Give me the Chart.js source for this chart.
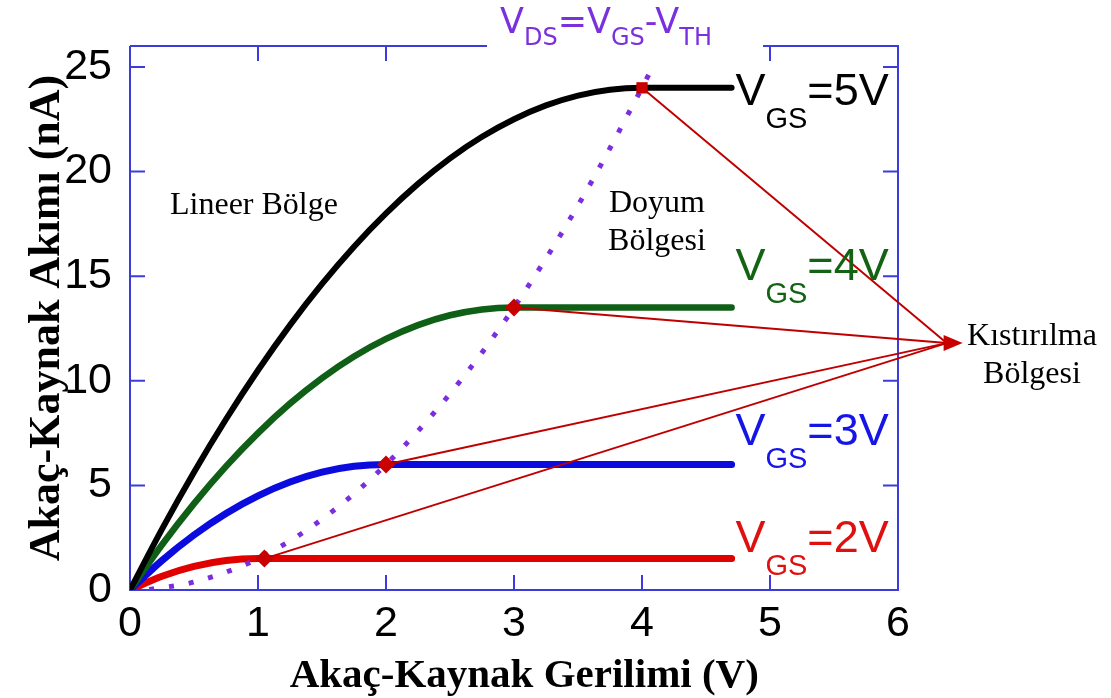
<!DOCTYPE html>
<html><head><meta charset="utf-8">
<script src="https://cdn.jsdelivr.net/npm/chart.js@4.4.1/dist/chart.umd.min.js"></script>
<style>html,body{margin:0;padding:0;background:#fff;}#wrap{width:1111px;height:698px;position:relative}</style>
</head><body><div id="wrap"><canvas id="c" width="1111" height="698"></canvas></div>
<script>
// ---- data ----
const VDS_VGS5 = [0, 0.25, 0.5, 0.75, 1, 1.25, 1.5, 1.75, 2, 2.25, 2.5, 2.75, 3, 3.25, 3.5, 3.75, 4, 4.7];
const ID_VGS5  = [0, 2.91, 5.63, 8.16, 10.5, 12.66, 14.63, 16.41, 18.0, 19.41, 20.63, 21.66, 22.5, 23.16, 23.63, 23.91, 24.0, 24.0];
const VDS_VGS4 = [0, 0.25, 0.5, 0.75, 1, 1.25, 1.5, 1.75, 2, 2.25, 2.5, 2.75, 3, 4.7];
const ID_VGS4  = [0, 2.16, 4.13, 5.91, 7.5, 8.91, 10.13, 11.16, 12.0, 12.66, 13.13, 13.41, 13.5, 13.5];
const VDS_VGS3 = [0, 0.25, 0.5, 0.75, 1, 1.25, 1.5, 1.75, 2, 4.7];
const ID_VGS3  = [0, 1.41, 2.63, 3.66, 4.5, 5.16, 5.63, 5.91, 6.0, 6.0];
const VDS_VGS2 = [0, 0.25, 0.5, 0.75, 1, 4.7];
const ID_VGS2  = [0, 0.66, 1.13, 1.41, 1.5, 1.5];
const VDS_SAT  = [0.15, 0.5, 1, 1.5, 2, 2.5, 3, 3.5, 4, 4.1];
const ID_SAT   = [0.03, 0.38, 1.5, 3.38, 6.0, 9.38, 13.5, 18.38, 24.0, 25.2];
const PINCH_X  = [1.05, 2, 3, 4];
const PINCH_Y  = [1.5, 6, 13.5, 24];
const ARROW_TIP = [6.38, 11.8];
const X_TICKS = [0, 1, 2, 3, 4, 5, 6];
const Y_TICKS = [0, 5, 10, 15, 20, 25];
const CURVE_LABELS = ['=5V', '=4V', '=3V', '=2V'];

const pts = (xs, ys) => xs.map((x, i) => ({x, y: ys[i]}));
const FRAME = '#3c3cdc';
const SANS = '"Liberation Sans", Arial, sans-serif';
const SERIF = '"Liberation Serif", "Times New Roman", serif';

function curve(xs, ys, color, w) {
  return {data: pts(xs, ys), showLine: true, borderColor: color, borderWidth: w,
    pointRadius: 0, cubicInterpolationMode: 'monotone', fill: false, borderCapStyle: 'round'};
}
// Chart.js draws the first dataset on top
const datasets = [];
datasets.push({data: pts(PINCH_X, PINCH_Y), showLine: false, pointStyle: ['rectRot', 'rectRot', 'rectRot', 'rect'],
  pointRadius: [9, 9, 9, 8], backgroundColor: '#c80000', borderColor: '#c80000', borderWidth: 0});
PINCH_X.forEach((x, i) => {
  datasets.push({data: [{x, y: PINCH_Y[i]}, {x: ARROW_TIP[0], y: ARROW_TIP[1]}], showLine: true,
    borderColor: '#c00000', borderWidth: 2, pointRadius: 0, clip: false});
});
datasets.push({data: pts(VDS_SAT, ID_SAT), showLine: true, borderColor: '#7a2ee0', borderWidth: 5,
  borderDash: [5, 15], borderCapStyle: 'butt', pointRadius: 0, cubicInterpolationMode: 'monotone'});
datasets.push(curve(VDS_VGS5, ID_VGS5, '#000000', 6));
datasets.push(curve(VDS_VGS4, ID_VGS4, '#0f5f17', 6.5));
datasets.push(curve(VDS_VGS3, ID_VGS3, '#0b0be0', 7));
datasets.push(curve(VDS_VGS2, ID_VGS2, '#e00000', 7));

function drawParts(ctx, parts, x, y, color) {
  ctx.fillStyle = color; ctx.textAlign = 'left'; ctx.textBaseline = 'alphabetic';
  for (const p of parts) {
    ctx.font = p.f;
    ctx.fillText(p.t, x, y + (p.dy || 0));
    x += ctx.measureText(p.t).width;
  }
  return x;
}

const deco = {
  id: 'deco',
  beforeDatasetsDraw(chart) {
    const {ctx, chartArea: a, scales: {x, y}} = chart;
    ctx.save();
    ctx.strokeStyle = FRAME; ctx.lineWidth = 2;
    const gapL = 487, gapR = 763;
    ctx.beginPath();
    ctx.moveTo(a.left, a.top); ctx.lineTo(gapL, a.top);
    ctx.moveTo(gapR, a.top); ctx.lineTo(a.right, a.top);
    ctx.lineTo(a.right, a.bottom); ctx.lineTo(a.left, a.bottom); ctx.lineTo(a.left, a.top);
    const T = 15;
    X_TICKS.forEach(v => {
      const px = x.getPixelForValue(v);
      if (v === X_TICKS[0] || v === X_TICKS[X_TICKS.length - 1]) return;
      ctx.moveTo(px, a.bottom); ctx.lineTo(px, a.bottom - T);
      if (px < gapL || px > gapR) { ctx.moveTo(px, a.top); ctx.lineTo(px, a.top + T); }
    });
    Y_TICKS.forEach(v => {
      if (v === 0) return;
      const py = y.getPixelForValue(v);
      ctx.moveTo(a.left, py); ctx.lineTo(a.left + T, py);
      ctx.moveTo(a.right, py); ctx.lineTo(a.right - T, py);
    });
    ctx.stroke();
    ctx.restore();
  },
  afterDatasetsDraw(chart) {
    const {ctx, scales: {x, y}} = chart;
    ctx.save();
    // arrowhead
    const tx = x.getPixelForValue(ARROW_TIP[0]), ty = y.getPixelForValue(ARROW_TIP[1]);
    ctx.fillStyle = '#c80000';
    ctx.beginPath(); ctx.moveTo(tx + 16, ty); ctx.lineTo(tx - 3, ty - 8); ctx.lineTo(tx - 3, ty + 8); ctx.closePath(); ctx.fill();
    // curve labels
    const big = '45px ' + SANS, sub = '29px ' + SANS;
    const lab = [
      {c: '#000000', vy: 23.2},
      {c: '#136313', vy: 14.8},
      {c: '#1515e6', vy: 6.93},
      {c: '#e01010', vy: 1.82}
    ];
    lab.forEach((l, i) => {
      const lx = x.getPixelForValue(4.73), ly = y.getPixelForValue(l.vy);
      drawParts(ctx, [{t: 'V', f: big}, {t: 'GS', f: sub, dy: 23}, {t: CURVE_LABELS[i], f: big}], lx, ly, l.c);
    });
    // region texts
    ctx.fillStyle = '#000'; ctx.font = '32px ' + SERIF; ctx.textBaseline = 'alphabetic';
    ctx.textAlign = 'left'; ctx.fillText('Lineer Bölge', 170, 214);
    ctx.textAlign = 'center';
    ctx.fillText('Doyum', 657, 212); ctx.fillText('Bölgesi', 657, 250);
    ctx.fillText('Kıstırılma', 1032, 345); ctx.fillText('Bölgesi', 1032, 383);
    // top title
    const tb = '35px "DejaVu Sans", sans-serif', ts = '24px "DejaVu Sans", sans-serif';
    drawParts(ctx, [{t: 'V', f: tb}, {t: 'DS', f: ts, dy: 12}, {t: '=V', f: tb}, {t: 'GS', f: ts, dy: 12},
      {t: '-V', f: tb}, {t: 'TH', f: ts, dy: 12}], 500, 33, '#7b30dd');
    ctx.restore();
  }
};

new Chart(document.getElementById('c'), {
  type: 'scatter',
  data: {datasets},
  options: {
    responsive: false, animation: false, devicePixelRatio: 1,
    layout: {padding: {left: 0, right: 213, top: 46, bottom: 0}},
    plugins: {legend: {display: false}, tooltip: {enabled: false}},
    scales: {
      x: {type: 'linear', min: 0, max: 6,
        afterBuildTicks: s => { s.ticks = X_TICKS.map(v => ({value: v})); },
        afterFit: s => { s.height = 108; },
        grid: {display: false, drawTicks: false}, border: {display: false},
        ticks: {padding: 8, color: '#000', font: {family: SANS, size: 43}},
        title: {display: true, text: '\u2002Akaç-Kaynak Gerilimi (V)', color: '#000',
          font: {family: SERIF, size: 41, weight: 'bold', lineHeight: 1.0}, padding: {top: 0, bottom: 1}}
      },
      y: {type: 'linear', min: 0, max: 26,
        afterBuildTicks: s => { s.ticks = Y_TICKS.map(v => ({value: v})); },
        afterFit: s => { s.width = 130; },
        grid: {display: false, drawTicks: false}, border: {display: false},
        ticks: {padding: 18, color: '#000', font: {family: SANS, size: 43}},
        title: {display: true, text: 'Akaç-Kaynak Akımı (nA)', color: '#000',
          font: {family: SERIF, size: 44, weight: 'bold', lineHeight: 1.0}, padding: {top: 26, bottom: 0}}
      }
    }
  },
  plugins: [deco]
});
</script></body></html>
